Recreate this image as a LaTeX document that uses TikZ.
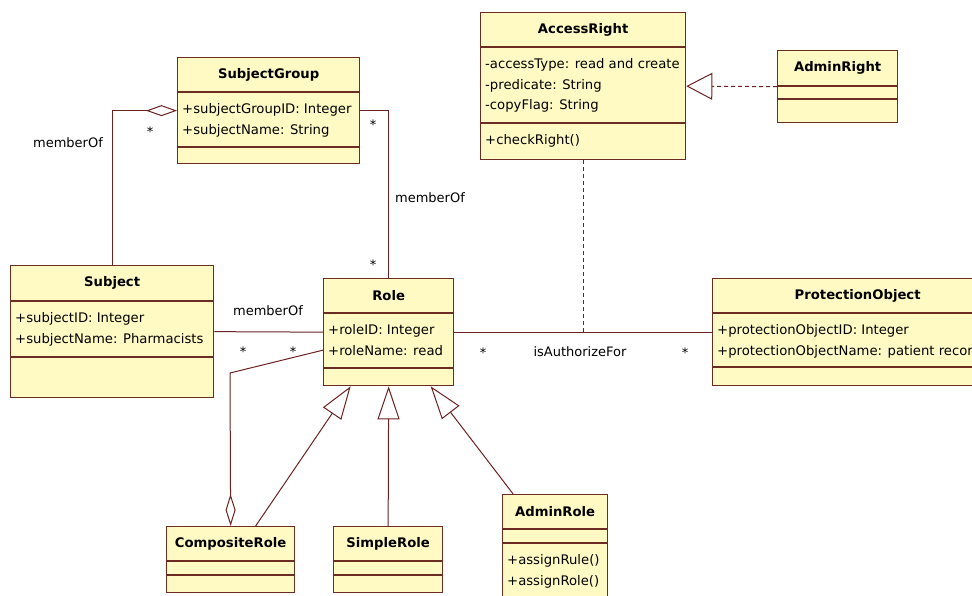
\documentclass[tikz,border=0pt]{standalone}
\usepackage{fontspec}
\setmainfont{DejaVu Sans}
\usetikzlibrary{arrows.meta}

\definecolor{classfill}{RGB}{255,250,196}
\definecolor{classline}{RGB}{108,44,34}
\definecolor{assocline}{RGB}{108,34,32}

\tikzset{
  classbox/.style={draw=classline, fill=classfill, line width=1.3pt, rectangle,
    inner sep=0pt, anchor=north west},
  classname/.style={font=\bfseries\fontsize{13.2}{15}\selectfont, inner sep=0pt},
  classtext/.style={font=\fontsize{13.2}{20.5}\selectfont, align=left,
    inner sep=0pt, anchor=north west},
  assoc/.style={draw=assocline, line width=1pt},
  lbl/.style={font=\fontsize{13}{15}\selectfont, inner sep=0pt},
}

% name, top left, width, heights of the three compartments, name, attributes, operations
\newcommand{\umlclass}[9]{%
  \node[classbox, minimum width=#3pt, minimum height={#4pt+#5pt+#6pt}] (#1) at #2 {};
  \draw[classline, line width=1.3pt] ([yshift=-#4pt]#1.north west) -- ([yshift=-#4pt]#1.north east);
  \draw[classline, line width=1.3pt] ([yshift={-#4pt-#5pt}]#1.north west) -- ([yshift={-#4pt-#5pt}]#1.north east);
  \node[classname] (#1-name) at ([yshift={-0.5*#4pt}]#1.north) {#7};
  \node[classtext] (#1-attr) at ([xshift=5pt, yshift={-#4pt-11.5pt}]#1.north west) {#8};
  \node[classtext] (#1-ops) at ([xshift=5pt, yshift={-#4pt-#5pt-11.5pt}]#1.north west) {#9};
}

\begin{document}
\begin{tikzpicture}[x=1pt, y=-1pt]
  \path[fill=white, use as bounding box] (0,0) rectangle (972,596);
  \clip (0,0) rectangle (972,596);

  \umlclass{sgroup}{(177,57)}{182}{35}{55}{16}{SubjectGroup}
    {+subjectGroupID: Integer\\+subjectName: String}{}
  \umlclass{access}{(480,12)}{205}{35}{76}{36}{AccessRight}
    {-accessType: read and create\\-predicate: String\\-copyFlag: String}{+checkRight()}
  \umlclass{adminright}{(777,50)}{120}{36}{13}{23}{AdminRight}{}{}
  \umlclass{subject}{(10,265)}{203}{36}{56}{40}{Subject}
    {+subjectID: Integer\\+subjectName: Pharmacists}{}
  \umlclass{role}{(323,278)}{130}{35}{55}{17}{Role}
    {+roleID: Integer\\+roleName: read}{}
  \umlclass{protobj}{(712,278)}{290}{35}{54}{18}{ProtectionObject}
    {+protectionObjectID: Integer\\+protectionObjectName: patient record}{}
  \umlclass{composite}{(166,526)}{128}{35}{14}{17}{CompositeRole}{}{}
  \umlclass{simple}{(333,526)}{109}{35}{14}{17}{SimpleRole}{}{}
  \umlclass{adminrole}{(502,494)}{105}{35}{14}{60}{AdminRole}{}
    {+assignRule()\\+assignRole()}

  \coordinate (authz) at (access.south |- role.east);
  \coordinate (cbend) at (230,373);

  \draw[assoc, {Diamond[open, length=31pt, width=11pt]}-] (sgroup.west) -| (subject.north);
  \draw[assoc] (sgroup.east) -| (role.north);
  \draw[assoc] (subject.east) -- (role.west);
  \draw[assoc] (role.east) -- (protobj.west);
  \draw[assoc, dash pattern=on 4pt off 3pt] (access.south) -- (authz);
  \draw[assoc, dash pattern=on 4pt off 3pt, -{Triangle[open, length=26pt, width=27pt]}]
    (adminright.west) -- (access.east);

  \draw[assoc, -{Triangle[open, length=33pt, width=22pt]}] ([xshift=25pt]composite.north) -- ([xshift=-38pt]role.south);
  \draw[assoc, -{Triangle[open, length=33pt, width=22pt]}] (simple.north) -- (role.south);
  \draw[assoc, -{Triangle[open, length=33pt, width=22pt]}] ([xshift=-42pt]adminrole.north) -- ([xshift=42pt]role.south);
  \draw[assoc, {Diamond[open, length=32pt, width=10pt]}-] (composite.north) -- (cbend) -- ([yshift=-18pt]role.west);

  \node[lbl] (sg-mult) at (150,132) {*};
  \node[lbl] (sg-of) at (68,143) {memberOf};
  \node[lbl] (sgr-mult) at (373,125) {*};
  \node[lbl] (sgr-of) at (430,198) {memberOf};
  \node[lbl] (rsg-mult) at (373,265) {*};
  \node[lbl] (sr-of) at (268,311) {memberOf};
  \node[lbl] (sr-mult) at (243,352) {*};
  \node[lbl] (rs-mult) at (293,352) {*};
  \node[lbl] (ra-mult) at (483,353) {*};
  \node[lbl] (ra-name) at (580,352) {isAuthorizeFor};
  \node[lbl] (ap-mult) at (685,353) {*};
\end{tikzpicture}
\end{document}
